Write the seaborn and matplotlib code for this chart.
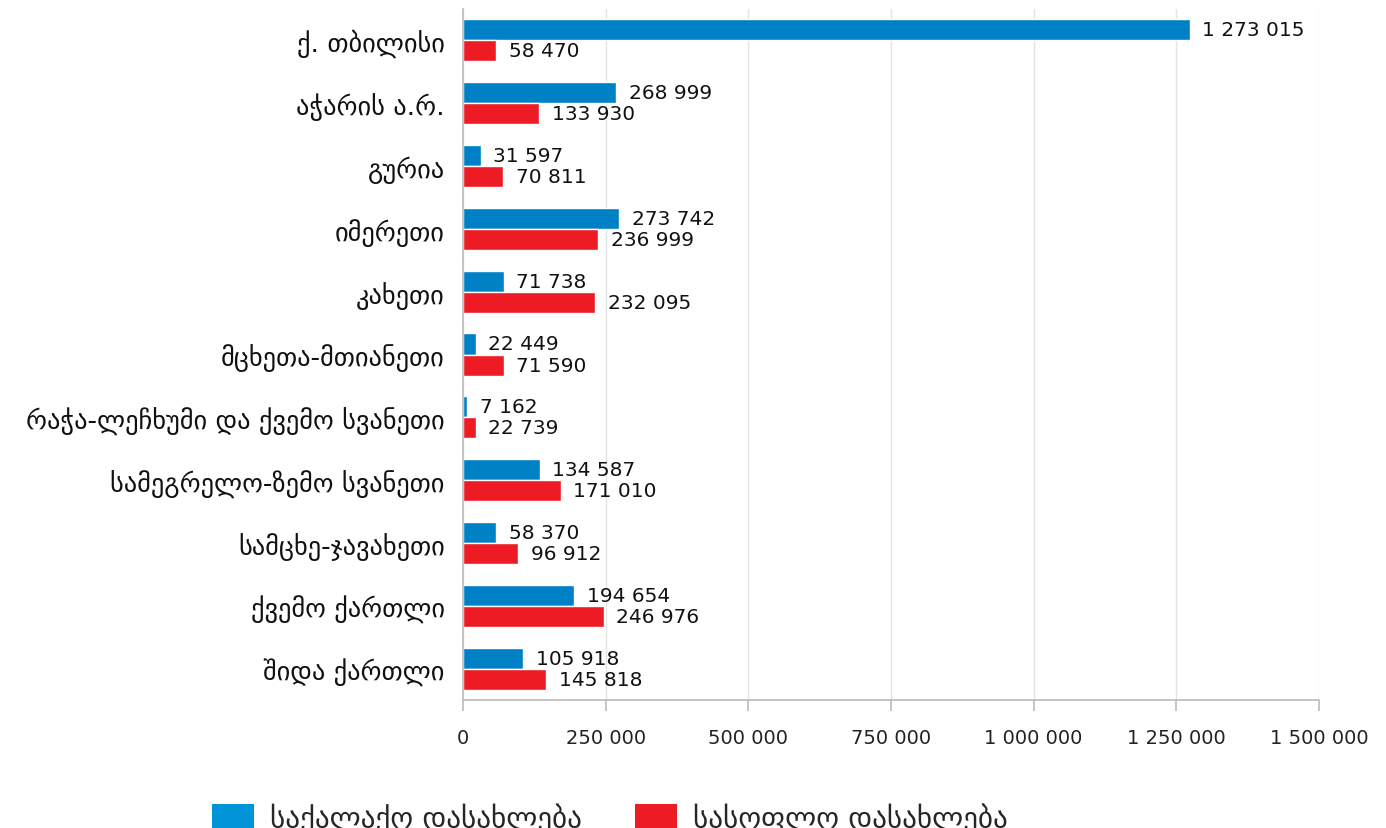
import matplotlib
matplotlib.use("Agg")
import matplotlib.pyplot as plt
import seaborn as sns
import pandas as pd
from matplotlib.patches import Patch

regions = ["ქ. თბილისი", "აჭარის ა.რ.", "გურია", "იმერეთი", "კახეთი",
           "მცხეთა-მთიანეთი", "რაჭა-ლეჩხუმი და ქვემო სვანეთი",
           "სამეგრელო-ზემო სვანეთი", "სამცხე-ჯავახეთი", "ქვემო ქართლი", "შიდა ქართლი"]
urban = [1273015, 268999, 31597, 273742, 71738, 22449, 7162, 134587, 58370, 194654, 105918]
rural = [58470, 133930, 70811, 236999, 232095, 71590, 22739, 171010, 96912, 246976, 145818]
series_names = ["საქალაქო დასახლება", "სასოფლო დასახლება"]
xticks = [0, 250000, 500000, 750000, 1000000, 1250000, 1500000]

colors = ["#0081C6", "#ED1C24"]

df = pd.DataFrame({
    "region": regions * 2,
    "value": urban + rural,
    "type": [series_names[0]] * len(regions) + [series_names[1]] * len(regions),
})

sns.set_style("white")
plt.rcParams['font.family'] = ['DejaVu Sans']

fig = plt.figure(figsize=(13.86, 8.29), dpi=100)
ax = fig.add_axes([0.334, 0.1538, 0.6177, 0.8347])

sns.barplot(data=df, y="region", x="value", hue="type", orient="h",
            palette=colors, width=0.67, ax=ax, legend=False, saturation=1,
            order=regions, hue_order=series_names)

def fmt(v):
    return f"{v:,}".replace(",", " ")

for cont in ax.containers:
    ax.bar_label(cont, labels=[fmt(int(r.get_width())) for r in cont],
                 padding=9, fontsize=14.5, color="#111111")

ax.set_xlim(0, 1500000)
ax.set_xticks(xticks)
ax.set_xticklabels([fmt(t) for t in xticks], fontsize=14, color="#222222")
ax.set_xlabel("")
ax.set_ylabel("")
ax.tick_params(axis="y", labelsize=19, length=0, pad=13, labelcolor="#111111")
ax.tick_params(axis="x", length=8, color="#bbbbbb", width=1.2, pad=12, direction="out", bottom=True)
ax.grid(axis="x", color="#e3e3e3", linewidth=1)
ax.set_axisbelow(True)
for s in ["top", "right"]:
    ax.spines[s].set_visible(False)
ax.spines["left"].set_color("#bbbbbb")
ax.spines["bottom"].set_color("#bbbbbb")
ax.spines["left"].set_linewidth(1.2)
ax.spines["bottom"].set_linewidth(1.2)

handles = [Patch(facecolor="#0093D8", edgecolor="none"), Patch(facecolor="#ED1C24", edgecolor="none")]
fig.legend(handles, series_names, loc="center", bbox_to_anchor=(0.44, 0.012), ncol=2,
           frameon=False, fontsize=21, handlelength=1.45, handleheight=1.0,
           columnspacing=1.8, handletextpad=0.55)

fig.savefig("out.png", dpi=100)
